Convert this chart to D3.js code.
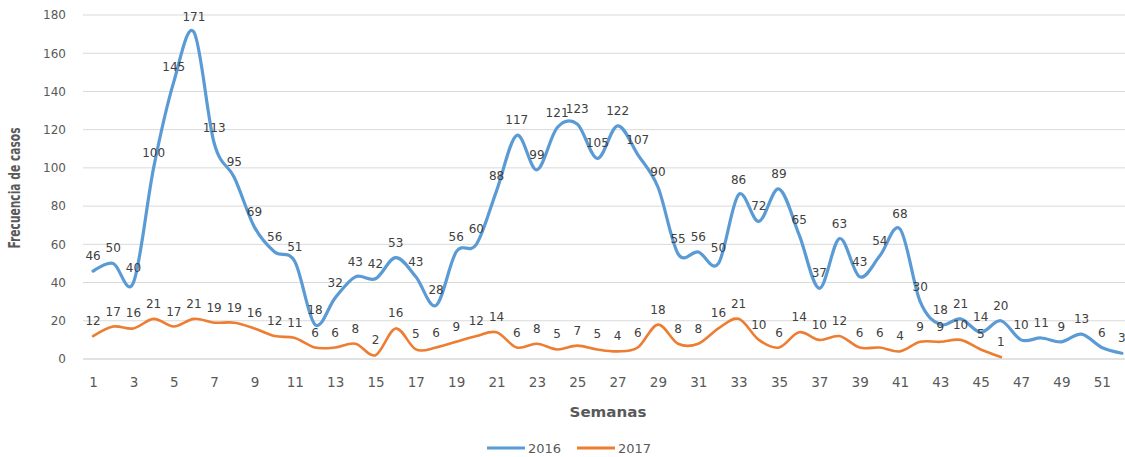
<!DOCTYPE html>
<html>
<head>
<meta charset="utf-8">
<script src="https://cdn.jsdelivr.net/npm/d3@7"></script>
<style>
body{margin:0;background:#fff}
svg{display:block}
</style>
</head>
<body>
<script>
// semanas epidemiologicas
const weeks=[1,2,3,4,5,6,7,8,9,10,11,12,13,14,15,16,17,18,19,20,21,22,23,24,25,26,
	27,28,29,30,31,32,33,34,35,36,37,38,39,40,41,42,43,44,45,46,47,48,49,50,51,52]
const cases2016=[46,50,40,100,145,171,113,95,69,56,51,18,32,43,42,53,43,28,56,60,
	88,117,99,121,123,105,122,107,90,55,56,50,86,72,89,65,37,63,43,54,
	68,30,18,21,14,20,10,11,9,13,6,3]
const cases2017=[12,17,16,21,17,21,19,19,16,12,11,6,6,8,2,16,5,6,9,12,
	14,6,8,5,7,5,4,6,18,8,8,16,21,10,6,14,10,12,6,6,
	4,9,9,10,5,1]
const yTicks=[0,20,40,60,80,100,120,140,160,180]
const seriesNames=["2016","2017"]
const colors=["#5B9BD5","#ED7D31"]

const W=1125,H=457
const plot={left:83,right:1132,top:15,bottom:359}

const svg=d3.select("body").append("svg")
	.attr("width",W)
	.attr("height",H)

const x=d3.scalePoint()
	.domain(weeks)
	.range([plot.left,plot.right])
	.padding(0.5)
const y=d3.scaleLinear()
	.domain([0,180])
	.range([plot.bottom,plot.top])

// grid
svg.append("g").selectAll("line").data(yTicks).enter().append("line")
	.attr("x1",plot.left)
	.attr("x2",plot.right)
	.attr("y1",d=>y(d))
	.attr("y2",d=>y(d))
	.attr("stroke","#d9d9d9")
	.attr("stroke-width",d=>d==0?1.6:1)

// y axis
const yAxis=svg.append("g")
	.attr("transform","translate(66,0)")
	.call(d3.axisLeft(y).tickValues(yTicks).tickSize(0).tickPadding(0))
yAxis.select(".domain").remove()
yAxis.selectAll("text")
	.attr("font-family","DejaVu Sans")
	.attr("font-size",12)
	.attr("fill","#595959")

// x axis
const xAxis=svg.append("g")
	.attr("transform","translate(0,"+plot.bottom+")")
	.call(d3.axisBottom(x).tickValues(weeks.filter(d=>d%2==1)).tickSize(0).tickPadding(18))
xAxis.select(".domain").remove()
xAxis.selectAll("text")
	.attr("font-family","DejaVu Sans")
	.attr("font-size",13.5)
	.attr("fill","#595959")

const line=d3.line()
	.x((d,i)=>x(weeks[i]))
	.y(d=>y(d))
	.curve(d3.curveCatmullRom.alpha(0))

const series=[cases2016,cases2017]
series.forEach((s,k)=>{
	svg.append("path")
		.attr("d",line(s))
		.attr("fill","none")
		.attr("stroke",colors[k])
		.attr("stroke-width",k==0?3.2:2.6)
		.attr("stroke-linejoin","round")
		.attr("stroke-linecap","round")
})

// etiquetas de datos
series.forEach((s,k)=>{
	svg.append("g").selectAll("text").data(s).enter().append("text")
		.attr("x",(d,i)=>x(weeks[i]))
		.attr("y",d=>y(d)-11)
		.attr("text-anchor","middle")
		.attr("font-family","DejaVu Sans")
		.attr("font-size",12)
		.attr("fill","#404040")
		.text(d=>d)
})

// titulos
svg.append("text")
	.attr("transform","translate(20,188) rotate(-90)")
	.attr("text-anchor","middle")
	.attr("font-family","Liberation Sans Narrow, DejaVu Sans Condensed, sans-serif")
	.attr("font-weight","bold")
	.attr("font-size",15)
	.attr("fill","#595959")
	.attr("textLength",121)
	.attr("lengthAdjust","spacingAndGlyphs")
	.text("Frecuencia de casos")

svg.append("text")
	.attr("x",608)
	.attr("y",417)
	.attr("text-anchor","middle")
	.attr("font-family","DejaVu Sans")
	.attr("font-weight","bold")
	.attr("font-size",14)
	.attr("fill","#595959")
	.attr("textLength",77)
	.attr("lengthAdjust","spacingAndGlyphs")
	.text("Semanas")

// leyenda
const legX=[487,577]
const leg=svg.append("g").selectAll("g").data(seriesNames).enter().append("g")
	.attr("transform",(d,i)=>"translate("+legX[i]+",448)")
leg.append("line")
	.attr("x1",0).attr("x2",38)
	.attr("stroke",(d,i)=>colors[i])
	.attr("stroke-width",3)
leg.append("text")
	.attr("x",41)
	.attr("y",5)
	.attr("font-family","DejaVu Sans")
	.attr("font-size",13)
	.attr("fill","#595959")
	.text(d=>d)
</script>
</body>
</html>
